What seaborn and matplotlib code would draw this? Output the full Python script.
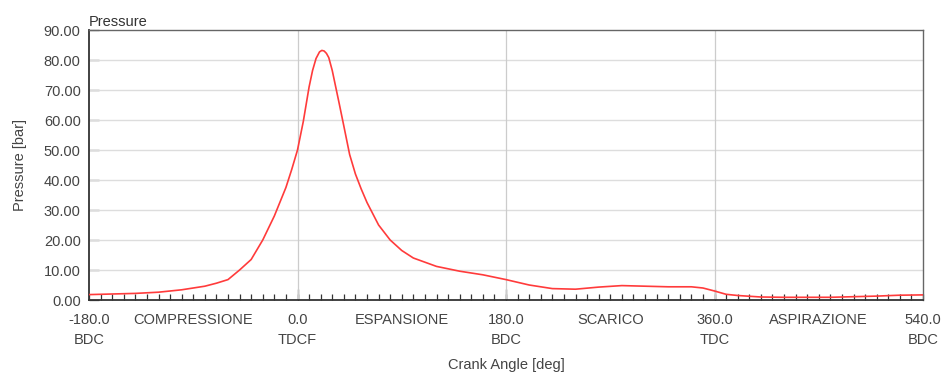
import matplotlib
matplotlib.use("Agg")
import matplotlib.pyplot as plt
import seaborn as sns
import pandas as pd

angle = [-180, -160, -140, -120, -100, -80, -70, -60, -50, -40, -30, -20, -10, -5, 0,
         5, 10, 13, 16, 19, 21, 23, 25, 27, 30, 33, 36, 40, 45, 50, 55, 60, 70, 80, 90, 100,
         120, 140, 160, 180, 200, 220, 240, 260, 280, 300, 320, 340, 350, 360, 370,
         380, 400, 420, 440, 460, 480, 500, 520, 540]
pressure = [1.8, 2.0, 2.2, 2.6, 3.4, 4.6, 5.6, 6.8, 10.0, 13.5, 20.0, 28.0, 37.5, 43.5, 50.0,
            59.5, 71.0, 76.5, 80.5, 82.7, 83.2, 83.0, 82.2, 80.8, 76.5, 71.0, 65.5, 58.0,
            48.5, 42.0, 37.0, 32.5, 25.0, 20.0, 16.5, 14.0, 11.2, 9.6, 8.4, 6.8, 5.0, 3.8,
            3.6, 4.3, 4.8, 4.6, 4.4, 4.4, 4.0, 3.0, 1.9, 1.5, 1.0, 0.9, 0.9, 0.9, 1.1, 1.3,
            1.6, 1.7]

tick_pos = [-180, -90, 0, 90, 180, 270, 360, 450, 540]
tick_labels = ["-180.0\nBDC", "COMPRESSIONE", "0.0\nTDCF", "ESPANSIONE", "180.0\nBDC",
               "SCARICO", "360.0\nTDC", "ASPIRAZIONE", "540.0\nBDC"]
dead_centres = [0, 180, 360]
y_ticks = [0, 10, 20, 30, 40, 50, 60, 70, 80, 90]

sns.set_theme(style="white")
plt.rcParams['font.family'] = ['Liberation Sans', 'DejaVu Sans']
txt = "#444444"

fig = plt.figure(figsize=(9.49, 3.74), dpi=100)
ax = fig.add_axes([89/949, 1-300/374, (923-89)/949, 270/374])

df = pd.DataFrame({"angle": angle, "pressure": pressure})
sns.lineplot(data=df, x="angle", y="pressure", ax=ax, color="#ff3b3b", linewidth=1.2,
             zorder=3)

ax.set_xlim(-180, 540)
ax.set_ylim(0, 90)
ax.set_yticks(y_ticks)
ax.set_yticklabels([f"{v:.2f}" for v in y_ticks])
ax.set_xticks(tick_pos)
ax.set_xticklabels(tick_labels, linespacing=1.55)
ax.set_xticks(range(-180, 541, 10), minor=True)

for y in y_ticks[1:-1]:
    ax.axhline(y, color="#dddddd", linewidth=1.0, zorder=1)
for x in dead_centres:
    ax.axvline(x, color="#cccccc", linewidth=0.9, zorder=1)

ax.tick_params(axis="x", which="both", bottom=True, direction="in", length=4, width=0.9,
               color="#333333", labelsize=10.5, labelcolor=txt, pad=9)
ax.tick_params(axis="y", which="major", left=True, direction="in", length=7, width=0.9,
               color="#333333", labelsize=10.5, labelcolor=txt, pad=6)
ax.tick_params(axis="y", which="minor", length=0)

sec = ax.secondary_xaxis("bottom")
sec.set_xticks(dead_centres)
sec.set_xticklabels([])
sec.tick_params(bottom=True, direction="in", length=8, width=0.9, color="#333333")
sec.spines["bottom"].set_visible(False)

for s in ["top", "right"]:
    ax.spines[s].set_color("#666666")
    ax.spines[s].set_linewidth(1.0)
for s in ["left", "bottom"]:
    ax.spines[s].set_color("#333333")
    ax.spines[s].set_linewidth(1.3)

ax.set_xlabel("Crank Angle [deg]", fontsize=10.5, color=txt, labelpad=8)
ax.set_ylabel("Pressure [bar]", fontsize=10.5, color=txt, labelpad=12)
ax.set_title("Pressure", loc="left", fontsize=10.5, color="#333333", pad=3)

fig.savefig("out.png", dpi=100)
